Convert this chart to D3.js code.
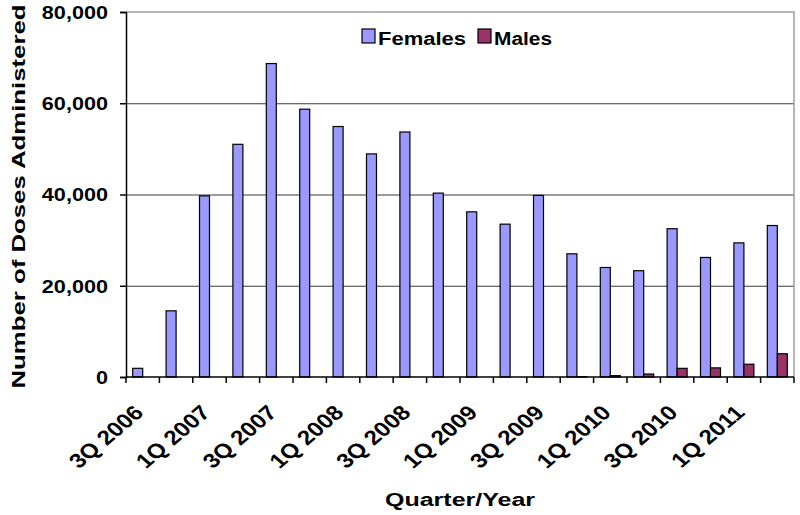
<!DOCTYPE html>
<html>
<head>
<meta charset="utf-8">
<script src="https://cdn.jsdelivr.net/npm/d3@7"></script>
<style>
  body { margin: 0; background: #fff; }
  svg text { font-family: "Liberation Sans", Arial, sans-serif; font-weight: bold; fill: #000; }
</style>
</head>
<body>
<svg id="chart" width="800" height="515"></svg>
<script>
var quarters = ["3Q 2006","4Q 2006","1Q 2007","2Q 2007","3Q 2007","4Q 2007","1Q 2008","2Q 2008",
                "3Q 2008","4Q 2008","1Q 2009","2Q 2009","3Q 2009","4Q 2009","1Q 2010","2Q 2010",
                "3Q 2010","4Q 2010","1Q 2011","2Q 2011"];
var females = [1900,14500,39700,51000,68700,58700,54900,48900,53700,40300,36200,33500,39800,27000,24000,23300,32500,26200,29400,33200];
var males   = [0,0,0,0,0,0,0,0,0,0,0,0,0,50,300,650,1900,2000,2800,5100];
var yTicks = [0,20000,40000,60000,80000];
var series = ["Females","Males"];
var colors = {Females: "#9999ff", Males: "#993366"};

var svg = d3.select("#chart"),
    margin = {top: 12, right: 6, bottom: 138, left: 126},
    width = +svg.attr("width") - margin.left - margin.right,
    height = +svg.attr("height") - margin.top - margin.bottom,
    g = svg.append("g").attr("transform", "translate(" + margin.left + "," + margin.top + ")");

var x = d3.scaleBand().domain(quarters).range([0, width]).padding(0);
var xSub = d3.scaleBand().domain(series).range([0, x.bandwidth()]).paddingInner(0).paddingOuter(0.67);
var y = d3.scaleLinear().domain([0, 80000]).range([height, 0]);

// gridlines
g.append("g")
    .attr("class", "grid")
    .call(d3.axisLeft(y).tickValues(yTicks.slice(1, -1)).tickSize(-width).tickFormat(""))
    .call(function(s) { s.select(".domain").remove(); })
    .selectAll("line").attr("stroke", "#3a3a3a").attr("stroke-width", 1.2);

// plot border (top + right)
g.append("path")
    .attr("d", "M0," + y(80000) + "H" + width + "V" + y(0))
    .attr("fill", "none")
    .attr("stroke", "#a0a0a0")
    .attr("stroke-width", 1.5);

// bars
var rows = quarters.map(function(q, i) { return {q: q, Females: females[i], Males: males[i]}; });
g.append("g").selectAll("g")
    .data(rows)
  .enter().append("g")
    .attr("transform", function(d) { return "translate(" + x(d.q) + ",0)"; })
  .selectAll("rect")
    .data(function(d) { return series.map(function(k) { return {key: k, value: d[k]}; }); })
  .enter().filter(function(d) { return d.value > 0; }).append("rect")
    .attr("x", function(d) { return xSub(d.key); })
    .attr("width", xSub.bandwidth())
    .attr("y", function(d) { return y(d.value); })
    .attr("height", function(d) { return height - y(d.value); })
    .attr("fill", function(d) { return colors[d.key]; })
    .attr("stroke", "#000")
    .attr("stroke-width", 1.2);

// y axis
var yAxis = g.append("g")
    .call(d3.axisLeft(y).tickValues(yTicks).tickSize(6).tickFormat(d3.format(",")));
yAxis.select(".domain").attr("stroke", "#000").attr("stroke-width", 1.5);
yAxis.selectAll("line").attr("stroke", "#000").attr("stroke-width", 1.5);
yAxis.selectAll("text")
    .attr("font-size", 18.5)
    .attr("x", 0)
    .attr("dy", "0.34em")
    .attr("transform", "translate(-18,0) scale(1.17,1)");

// x axis line + tick marks between categories
var xAxis = g.append("g").attr("transform", "translate(0," + height + ")");
xAxis.append("line").attr("x1", 0).attr("x2", width)
    .attr("stroke", "#000").attr("stroke-width", 1.5);
xAxis.selectAll(".tickmark")
    .data(quarters.concat(["end"]))
  .enter().append("line")
    .attr("class", "tickmark")
    .attr("x1", function(d) { return d === "end" ? width : x(d); })
    .attr("x2", function(d) { return d === "end" ? width : x(d); })
    .attr("y1", 0).attr("y2", 6)
    .attr("stroke", "#000").attr("stroke-width", 1.5);

// every other quarter labelled
xAxis.append("g")
    .call(d3.axisBottom(x).tickValues(quarters.filter(function(d, i) { return i % 2 === 0; })).tickSize(0))
    .call(function(s) { s.select(".domain").remove(); })
    .selectAll("text")
    .attr("font-size", 20.5)
    .attr("x", 0).attr("y", 0).attr("dy", 0)
    .attr("text-anchor", "end")
    .attr("transform", "translate(2,37) scale(1.18,1) rotate(-45)");

// axis titles
svg.append("text")
    .attr("transform", "translate(25," + (margin.top + height / 2 + 2) + ") rotate(-90)")
    .attr("text-anchor", "middle")
    .attr("font-size", 18)
    .attr("textLength", 384)
    .attr("lengthAdjust", "spacingAndGlyphs")
    .text("Number of Doses Administered");

svg.append("text")
    .attr("x", margin.left + width / 2)
    .attr("y", 506)
    .attr("text-anchor", "middle")
    .attr("font-size", 18)
    .attr("textLength", 150)
    .attr("lengthAdjust", "spacingAndGlyphs")
    .text("Quarter/Year");

// legend
var legend = svg.append("g").attr("transform", "translate(362,29)");
var legendX = {Females: 0, Males: 116};
var legendW = {Females: 88, Males: 58};
series.forEach(function(k) {
  var lg = legend.append("g").attr("transform", "translate(" + legendX[k] + ",0)");
  lg.append("rect").attr("width", 13).attr("height", 14)
    .attr("fill", colors[k]).attr("stroke", "#000").attr("stroke-width", 1.2);
  lg.append("text").attr("x", 16).attr("y", 16)
    .attr("font-size", 18)
    .attr("textLength", legendW[k])
    .attr("lengthAdjust", "spacingAndGlyphs")
    .text(k);
});
</script>
</body>
</html>
